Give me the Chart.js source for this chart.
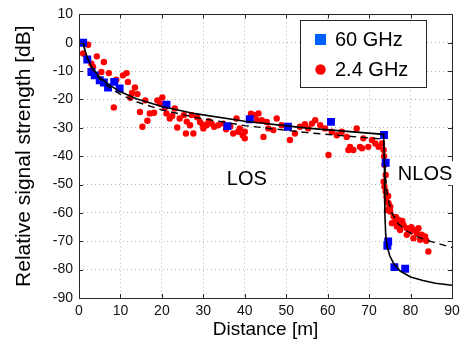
<!DOCTYPE html>
<html><head><meta charset="utf-8">
<script src="https://cdn.jsdelivr.net/npm/chart.js@4/dist/chart.umd.min.js"></script>
<style>html,body{margin:0;padding:0;background:#fff;}#wrap{width:465px;height:345px;}</style>
</head><body><div id="wrap"><canvas id="c" width="465" height="345"></canvas></div>
<script>
// ---- data ----
const xTicks = [0,10,20,30,40,50,60,70,80,90];
const yTicks = [-90,-80,-70,-60,-50,-40,-30,-20,-10,0,10];
const seriesNames = ['60 GHz', '2.4 GHz'];
const regionLabels = ['LOS', 'NLOS'];
const xTitle = 'Distance [m]';
const yTitle = 'Relative signal strength [dB]';

// 60 GHz measurements (blue squares)
const ghz60X = [1, 2, 3, 3.8, 5, 6, 7, 8.5, 9.8, 21.1, 35.8, 41.2, 50.4, 60.8, 73.6, 74.0, 74.6, 74.4, 76.1, 78.7];
const ghz60Y = [0, -5.9, -10.3, -11.5, -13.2, -14, -15.8, -13.8, -16.1, -21.8, -29.4, -27, -29.6, -27.9, -32.5, -42.3, -70.1, -71.6, -79.1, -79.7];

// 2.4 GHz measurements (red dots)
const ghz24X = [1.0,2.2,3.0,3.4,4.3,6.0,5.4,7.2,9.0,10.6,11.5,11.8,13.5,12.8,14.1,12.4,8.4,14.7,16.0,15.3,16.5,18.1,18.9,19.5,20.1,20.7,21.1,21.9,23.1,23.7,24.3,25.3,25.8,26.8,27.2,27.6,28.5,29.2,30.0,30.8,32.0,32.6,33.6,34.8,37.2,38.0,38.8,39.5,40.0,40.0,42.5,43.3,42.9,
  44.1,44.5,45.7,46.9,47.7,48.9,50.9,52.1,53.3,54.5,55.3,56.2,57.0,58.2,59.4,60.2,61.0,62.2,63.4,64.6,65.4,66.2,67.0,67.8,68.6,69.8,70.7,71.5,72.3,73.1,73.5,
  65.0,68.3,45.3,38.4,17.1,35.5,36.5,31.3,29.8,22.5,26.0,41.5,
  73.6,73.7,74.0,73.5,73.7,74.0,74.2,74.3,74.7,75.1,74.3,75.1,75.9,76.3,77.1,77.5,78.3,79.1,79.9,80.7,81.5,81.9,82.7,83.5,84.3,82.3,80.7,79.1,77.5,76.7,75.5,
  78.0,80.2,82.9,83.8,76.5,74.6,74.8];
const ghz24Y = [-3.8,-0.7,-7.4,-8.5,-4.8,-6.8,-10.3,-10.7,-13,-11.5,-10.7,-13.8,-15.8,-17.7,-18.1,-19.4,-22.8,-24.4,-20.3,-29.6,-27.5,-24.7,-20.3,-21.4,-19.3,-22.8,-24.9,-26.7,-23.2,-29.9,-26.7,-25.5,-32,-29.1,-25.5,-32,-26.3,-27.9,-30.2,-29.1,-28.5,-29.6,-29.1,-28.5,-32,-26.7,-30.2,-32.6,-33.7,-31.4,-25.5,-24.9,-27.3,
  -27.3,-33.2,-30.2,-30.8,-26.7,-29.1,-34.3,-32,-29.6,-28.7,-30.2,-28.5,-27.3,-29.1,-30.2,-39.6,-31.4,-32.6,-31.4,-33.2,-36.7,-37.8,-30.2,-36.7,-33.7,-36.7,-34.3,-35.5,-36.7,-35.5,-37.8,
  -37.8,-37.2,-27.9,-31.4,-24.9,-30.5,-29.5,-27.7,-28.8,-25.8,-27.8,-25,
  -40,-43,-46.6,-49,-50.8,-52.5,-54.3,-56,-56.6,-57.8,-59,-59.5,-61.3,-63.1,-62.5,-63.6,-64.2,-65.4,-66.6,-66,-67.1,-65.4,-67.7,-68.3,-73.6,-69.5,-68.9,-67.7,-66,-64.8,-63.6,
  -62.8,-65,-69,-69.8,-61.5,-54,-58.5];

// fitted curves
const fit60X = [1, 1.5, 2, 3, 4, 5, 7, 10, 14, 20, 28, 40, 55, 73.5, 73.7, 73.8, 74, 74.3, 75, 76, 77.5, 80, 83, 86, 90];
const fit60Y = [0, -3, -5.2, -8.3, -10.4, -12.1, -14.6, -17.3, -19.8, -22.5, -25, -27.7, -30.1, -32.3, -45, -60, -67.5, -71.5, -75.2, -78, -80.5, -82.6, -83.8, -84.8, -85.5];
const fit24X = [1, 1.5, 2, 3, 4, 5, 7, 10, 14, 20, 28, 40, 55, 73.5, 74, 74.5, 75.5, 77, 79, 82, 85, 90];
const fit24Y = [0, -3.2, -5.5, -8.7, -11, -12.7, -15.4, -18.2, -20.9, -23.7, -26.3, -29.2, -31.7, -34, -48, -55, -60, -63.8, -66.3, -68.6, -70.1, -72.2];

const pts = (xs, ys) => xs.map((x, i) => ({x: x, y: ys[i]}));
const FONT = "'Liberation Sans', Arial, sans-serif";
const AXIS = '#262626';

const framePlugin = {
  id: 'frame',
  afterDraw(chart) {
    const {ctx, chartArea: a, scales: {x, y}} = chart;
    ctx.save();
    ctx.strokeStyle = AXIS; ctx.lineWidth = 1;
    ctx.beginPath();
    xTicks.forEach(v => {
      const px = Math.round(x.getPixelForValue(v)) + 0.5;
      ctx.moveTo(px, a.bottom); ctx.lineTo(px, a.bottom - 4);
      ctx.moveTo(px, a.top); ctx.lineTo(px, a.top + 4);
    });
    yTicks.forEach(v => {
      const py = Math.round(y.getPixelForValue(v)) + 0.5;
      ctx.moveTo(a.left, py); ctx.lineTo(a.left + 4, py);
      ctx.moveTo(a.right, py); ctx.lineTo(a.right - 4, py);
    });
    ctx.stroke();
    ctx.strokeRect(Math.round(a.left) + 0.5, Math.round(a.top) + 0.5, Math.round(a.right - a.left), Math.round(a.bottom - a.top));

    // region labels with white background
    ctx.font = '20px ' + FONT;
    ctx.textBaseline = 'middle';
    ctx.textAlign = 'center';
    const labelPos = [[40.5, -48], [83.5, -46]];
    regionLabels.forEach((t, i) => {
      const cx = x.getPixelForValue(labelPos[i][0]);
      const cy = y.getPixelForValue(labelPos[i][1]);
      const w = ctx.measureText(t).width;
      ctx.fillStyle = '#fff';
      ctx.fillRect(cx - w / 2 - 3, cy - 12, w + 6, 24);
      ctx.fillStyle = '#000';
      ctx.fillText(t, cx, cy + 1);
    });

    // legend box
    const lx = 300.5, ly = 20.5, lw = 126, lh = 67;
    ctx.fillStyle = '#fff';
    ctx.fillRect(lx, ly, lw, lh);
    ctx.strokeStyle = AXIS;
    ctx.strokeRect(lx, ly, lw, lh);
    ctx.fillStyle = '#0060ff';
    ctx.fillRect(315, 34, 11, 11);
    ctx.fillStyle = '#ff0000';
    ctx.beginPath(); ctx.arc(320.5, 69.5, 5.2, 0, Math.PI * 2); ctx.fill();
    ctx.fillStyle = '#000';
    ctx.textAlign = 'left';
    ctx.font = '20px ' + FONT;
    ctx.fillText(seriesNames[0], 335, 40);
    ctx.fillText(seriesNames[1], 335, 70);
    ctx.restore();
  }
};

new Chart(document.getElementById('c'), {
  type: 'scatter',
  data: {
    datasets: [
      { label: '60 GHz fit', data: pts(fit60X, fit60Y), showLine: true, borderColor: '#000', borderWidth: 1.6, pointRadius: 0, fill: false, tension: 0, order: 0 },
      { label: '2.4 GHz fit', data: pts(fit24X, fit24Y), showLine: true, borderColor: '#000', borderWidth: 1.4, borderDash: [7, 5], pointRadius: 0, fill: false, tension: 0, order: 1 },
      { label: seriesNames[0], data: pts(ghz60X, ghz60Y), pointStyle: 'rect', pointRadius: 5.6, backgroundColor: '#0000ff', borderWidth: 0, order: 2 },
      { label: seriesNames[1], data: pts(ghz24X, ghz24Y), pointStyle: 'circle', pointRadius: 3.2, backgroundColor: '#ff0000', borderWidth: 0, order: 3 }
    ]
  },
  options: {
    responsive: false,
    animation: false,
    devicePixelRatio: 1,
    layout: { padding: { left: 0, right: 13, top: 14, bottom: 0 } },
    plugins: { legend: { display: false }, tooltip: { enabled: false } },
    scales: {
      x: {
        type: 'linear', min: 0, max: 90,
        afterFit: s => { s.height = 47; },
        afterBuildTicks: s => { s.ticks = xTicks.map(v => ({value: v})); },
        ticks: { color: '#111', font: { family: FONT, size: 14 }, padding: 5, maxRotation: 0 },
        grid: { color: '#b5b5b5', lineWidth: 1, drawTicks: false },
        border: { display: false, dash: [1, 3] },
        title: { display: true, text: xTitle, color: '#000', font: { family: FONT, size: 19 }, padding: { top: 0, bottom: 4 } }
      },
      y: {
        type: 'linear', min: -90, max: 10,
        afterFit: s => { s.width = 79; },
        afterBuildTicks: s => { s.ticks = yTicks.map(v => ({value: v})); },
        ticks: { color: '#111', font: { family: FONT, size: 14 }, padding: 6 },
        grid: { color: '#b5b5b5', lineWidth: 1, drawTicks: false },
        border: { display: false, dash: [1, 3] },
        title: { display: true, text: yTitle, color: '#000', font: { family: FONT, size: 21 }, padding: { top: 12, bottom: 0 } }
      }
    }
  },
  plugins: [framePlugin]
});
</script>
</body></html>
